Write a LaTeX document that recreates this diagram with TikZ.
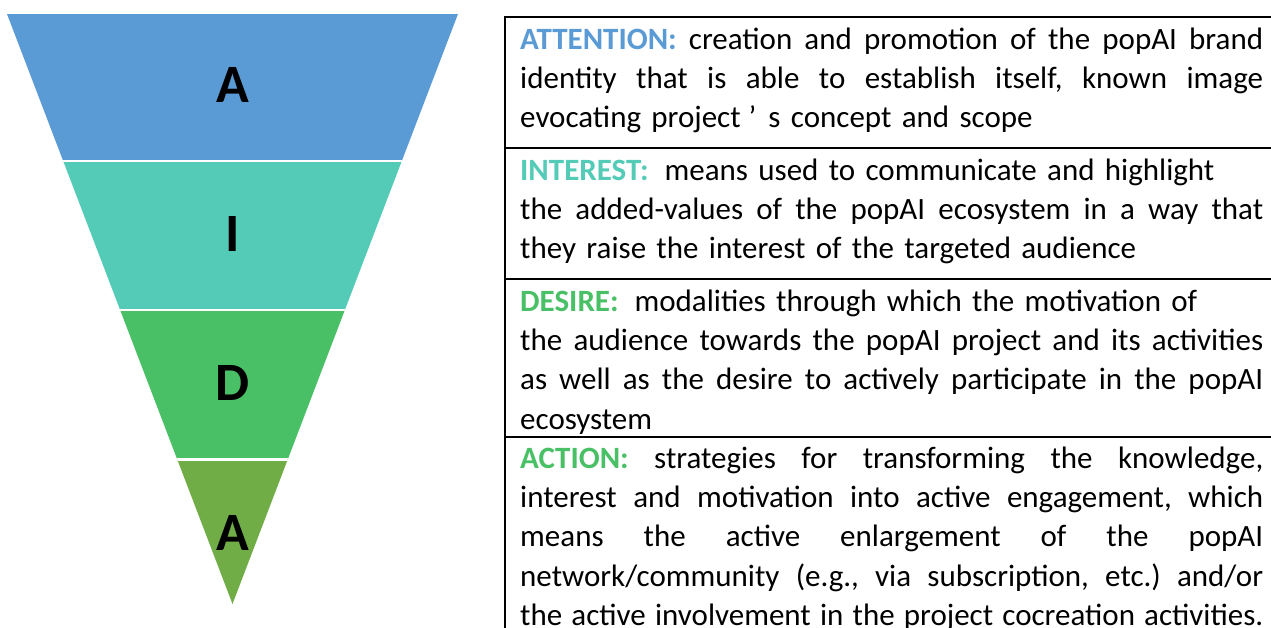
\documentclass[tikz,border=0pt]{standalone}
\usepackage{fontspec}
\setmainfont{Carlito}

\definecolor{attblue}{HTML}{5B9BD5}
\definecolor{intteal}{HTML}{54CBB7}
\definecolor{desgreen}{HTML}{4AC066}
\definecolor{actgreen}{HTML}{71AD47}

\newcommand{\jline}[1]{\makebox[743pt][s]{\spaceskip=0pt\xspaceskip=0pt\relax #1}}
\newcommand{\stage}[2]{{\color{#1}\bfseries #2:}}

\tikzset{
	letter/.style = {anchor = base, font = \fontsize{54}{60}\selectfont\bfseries},
	rowtext/.style = {anchor = north west, inner sep = 0, text width = 750pt, align = left,
		font = \fontsize{31}{39.3}\selectfont\frenchspacing},
}

\begin{document}
\begin{tikzpicture}[x = 1pt, y = -1pt]
	\useasboundingbox (0,0) rectangle (1271,628);

	\begin{scope}
		\clip (7,14) -- (458,14) -- (232.5,604) -- cycle;
		\fill [attblue](0,14) rectangle (470,161);
		\fill [intteal](0,161) rectangle (470,310);
		\fill [desgreen](0,310) rectangle (470,459.5);
		\fill [actgreen](0,459.5) rectangle (470,604);
		\foreach \y in {161,310,459.5}{
				\draw [white, line width = 2.5pt](0,\y)--(470,\y);
			}
	\end{scope}

	\node (la)[letter] at(232.5, 103) {A};
	\node (li)[letter] at(232.5, 252) {I};
	\node (ld)[letter] at(232.5, 400) {D};
	\node (lb)[letter] at(232.5, 550) {A};

	\draw [line width = 2pt](1271,17)-|(505,628);
	\foreach \y in {148,279,437}{
			\draw [line width = 2pt](505,\y)--(1271,\y);
		}

	\node (att)[rowtext] at(520, 21) {\rule{0pt}{28pt}%
		\jline{\stage{attblue}{ATTENTION} creation and promotion of the popAI brand}\\
		\jline{identity that is able to establish itself, known image}\\
		evocating project\kern8pt’\kern12pt s concept and scope};

	\node (int)[rowtext] at(520, 152) {\rule{0pt}{28pt}%
		\stage{intteal}{INTEREST}\hspace{16pt}means used to communicate and highlight\\
		\jline{the added-values of the popAI ecosystem in a way that}\\
		they raise the interest of the targeted audience};

	\node (des)[rowtext] at(520, 283) {\rule{0pt}{28pt}%
		\stage{desgreen}{DESIRE}\hspace{16pt}modalities through which the motivation of\\
		\jline{the audience towards the popAI project and its activities}\\
		\jline{as well as the desire to actively participate in the popAI}\\
		ecosystem};

	\node (act)[rowtext] at(520, 440) {\rule{0pt}{28pt}%
		\jline{\stage{desgreen}{ACTION} strategies for transforming the knowledge,}\\
		\jline{interest and motivation into active engagement, which}\\
		\jline{means the active enlargement of the popAI}\\
		\jline{network/community (e.g., via subscription, etc.) and/or}\\
		\jline{the active involvement in the project cocreation activities.}};
\end{tikzpicture}
\end{document}
